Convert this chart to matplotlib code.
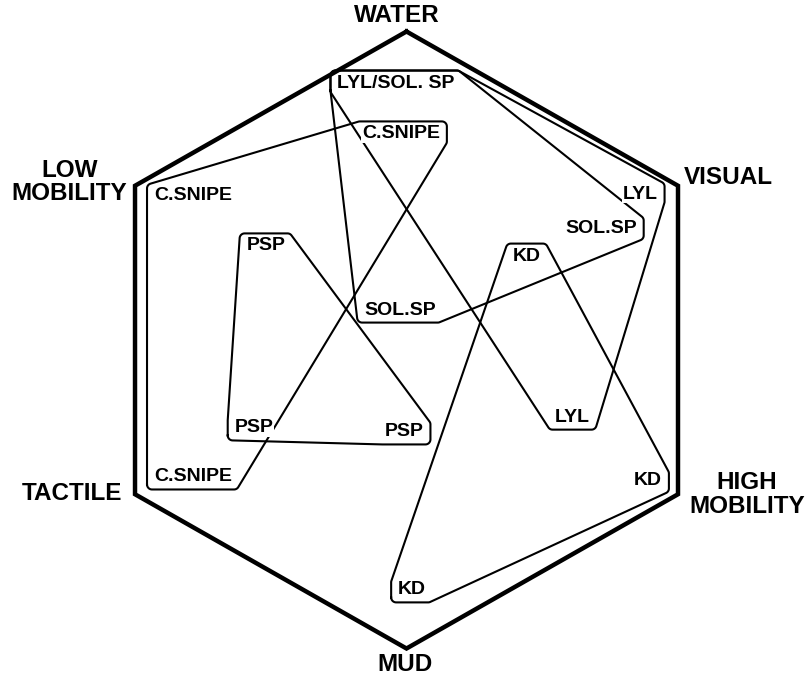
import numpy as np
import matplotlib
matplotlib.use('Agg')
import matplotlib.pyplot as plt
from matplotlib import font_manager

plt.rcParams['font.family'] = ['Liberation Sans', 'DejaVu Sans']

# corners of the hexagon (unit radius), counter-clockwise from the top
axis_names = ['WATER', 'LOW\nMOBILITY', 'TACTILE', 'MUD', 'HIGH\nMOBILITY', 'VISUAL']
axis_angles = [90, 150, 210, 270, 330, 30]

# species labels inside the hexagon
labels = ['LYL/SOL. SP', 'C.SNIPE', 'C.SNIPE', 'LYL', 'SOL.SP', 'PSP', 'KD',
          'SOL.SP', 'LYL', 'PSP', 'PSP', 'C.SNIPE', 'KD', 'KD']
label_x = [-0.033, -0.018, -0.681, 0.745, 0.620, -0.448, 0.384,
           -0.021, 0.528, -0.486, -0.008, -0.681, 0.770, 0.018]
label_y = [0.833, 0.668, 0.467, 0.473, 0.363, 0.305, 0.272,
           0.097, -0.250, -0.285, -0.298, -0.444, -0.457, -0.810]

# labels grouped per species
species = ['LYL', 'SOL.SP', 'C.SNIPE', 'PSP', 'KD']
members = [[0, 3, 8], [0, 4, 7], [1, 2, 11], [5, 9, 10], [6, 12, 13]]


def convex_hull(pts):
    pts = sorted(set(map(tuple, pts)))
    def cross(o, a, b):
        return (a[0]-o[0])*(b[1]-o[1]) - (a[1]-o[1])*(b[0]-o[0])
    lower, upper = [], []
    for p in pts:
        while len(lower) >= 2 and cross(lower[-2], lower[-1], p) <= 0:
            lower.pop()
        lower.append(p)
    for p in reversed(pts):
        while len(upper) >= 2 and cross(upper[-2], upper[-1], p) <= 0:
            upper.pop()
        upper.append(p)
    return np.array(lower[:-1] + upper[:-1])


def rounded_outline(hull, r):
    # grow a ccw polygon by r with round corners
    n = len(hull)
    out = []
    for i in range(n):
        p0, p1, p2 = hull[i-1], hull[i], hull[(i+1) % n]
        e1 = p1 - p0
        e2 = p2 - p1
        a1 = np.arctan2(e1[1], e1[0]) - np.pi/2
        a2 = np.arctan2(e2[1], e2[0]) - np.pi/2
        while a2 < a1:
            a2 += 2*np.pi
        t = np.linspace(a1, a2, 12)
        out.extend(np.column_stack([p1[0] + r*np.cos(t), p1[1] + r*np.sin(t)]))
    out.append(out[0])
    return np.array(out)


# narrow lettering if it is there
installed = {f.name for f in font_manager.fontManager.ttflist}
if 'Liberation Sans Narrow' in installed:
    lab_family, lab_size = 'Liberation Sans Narrow', 16
else:
    lab_family, lab_size = 'Liberation Sans', 14

fig = plt.figure(figsize=(8.07, 6.78), dpi=100)
ax = fig.add_axes([0, 0, 1, 1])
ax.set_xlim(-1.2967, 1.2775)
ax.set_ylim(-1.0956, 1.1021)
ax.axis('off')

ang = np.radians(axis_angles + axis_angles[:1])
ax.plot(np.cos(ang), np.sin(ang), color='black', lw=3.2, solid_joinstyle='miter', zorder=2)

name_x = [-0.030, -1.075, -1.067, -0.005, 1.086, 1.026]
name_y = [1.053, 0.512, -0.496, -1.053, -0.502, 0.528]
for name, x, y in zip(axis_names, name_x, name_y):
    ax.text(x, y, name, ha='center', va='center', fontsize=17.5,
            fontweight='bold', linespacing=1.05)

texts = []
for lab, x, y in zip(labels, label_x, label_y):
    t = ax.text(x, y, lab, ha='center', va='center', fontsize=lab_size,
                fontweight='bold', family=[lab_family, 'DejaVu Sans'], zorder=4,
                bbox=dict(facecolor='white', edgecolor='none', pad=0.5))
    texts.append(t)

fig.canvas.draw()
renderer = fig.canvas.get_renderer()
inv = ax.transData.inverted()
boxes = [t.get_window_extent(renderer) for t in texts]

for name, idx in zip(species, members):
    corners = []
    for i in idx:
        b = boxes[i]
        x0, x1 = b.x0 - 2, b.x1 + 2
        y0, y1 = b.y0 + 1, b.y1 - 1
        corners += [(x0, y0), (x1, y0), (x1, y1), (x0, y1)]
    outline = rounded_outline(convex_hull(corners), 5)
    xy = inv.transform(outline)
    ax.plot(xy[:, 0], xy[:, 1], color='black', lw=1.5, zorder=3)

fig.savefig('out.png', dpi=100, facecolor='white')
